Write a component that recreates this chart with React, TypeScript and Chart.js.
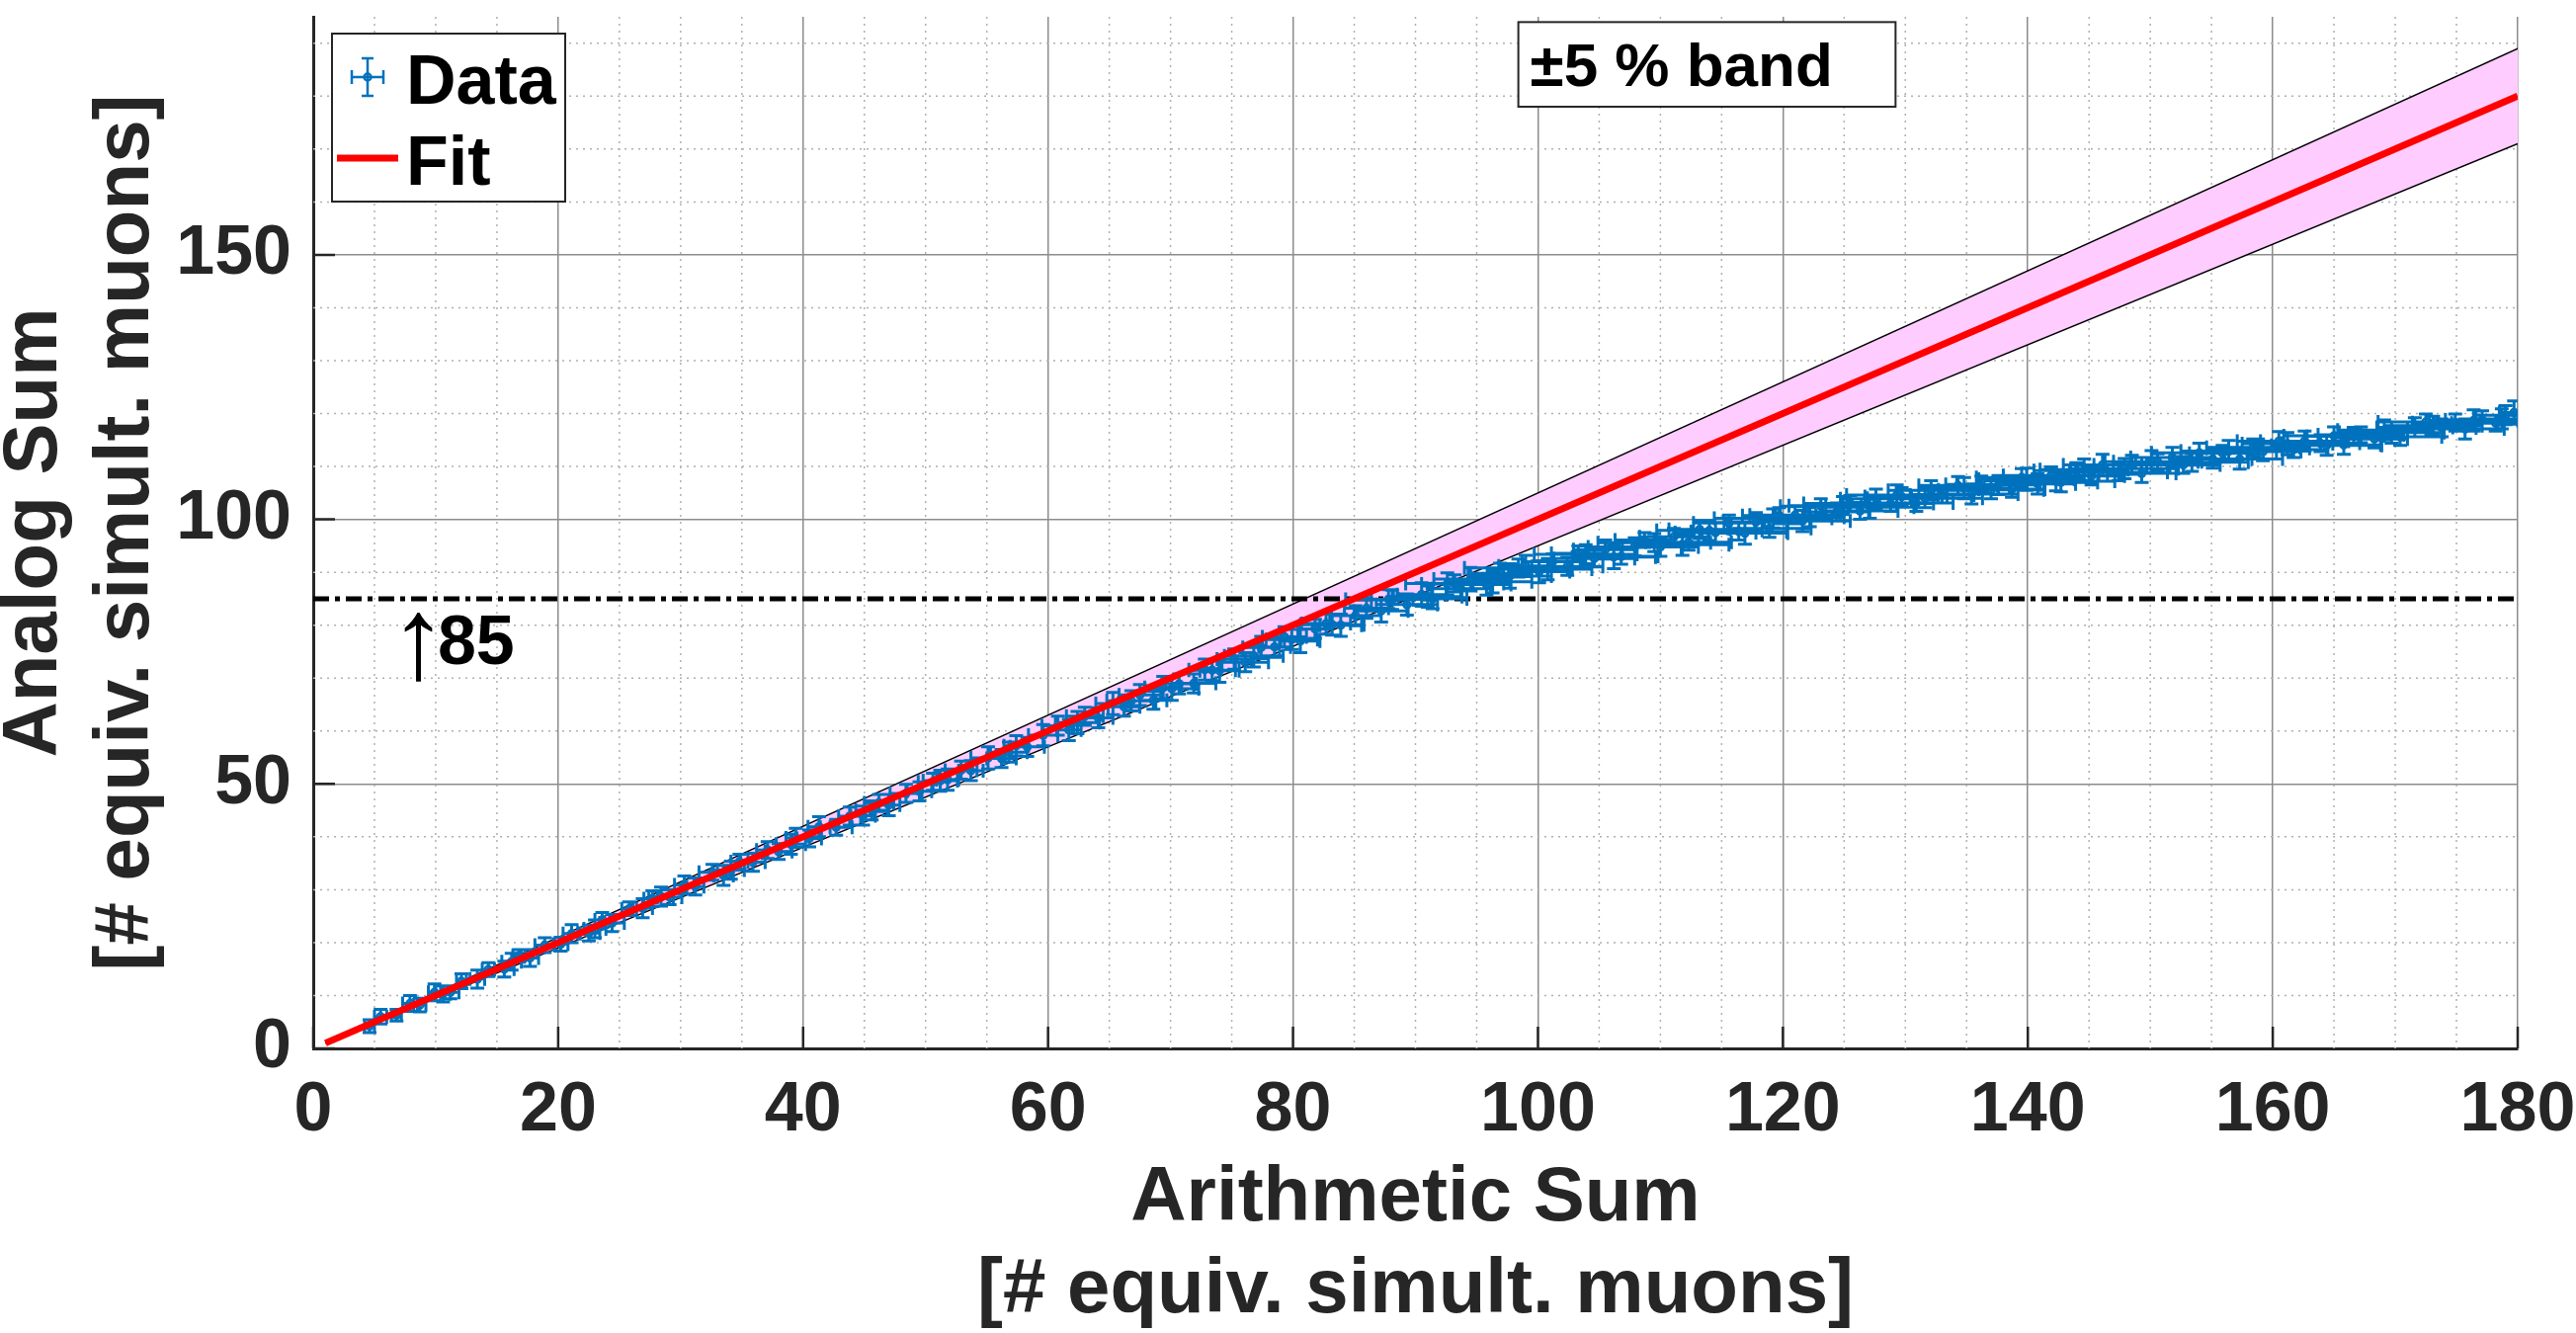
import { useEffect, useRef } from "react"
import { Chart, registerables } from "chart.js"

Chart.register(...registerables)

// measured points: arithmetic sum (x) vs analog sum (y), with errors
const dataX = [
  4.6, 5.5, 6.8, 7.9, 8.7, 9.9, 11.2, 12.1, 13.4, 14.3,
  15.6, 16.8, 17.7, 18.9, 20.2, 21.1, 22.5, 23.6, 24.4, 25.8,
  26.9, 27.7, 29.1, 30.3, 31.2, 32.6, 33.5, 34.8, 35.9, 37.1,
  38.0, 39.4, 40.5, 41.3, 42.7, 43.8, 44.9, 46.2, 47.0, 48.4,
  49.5, 50.6, 51.8, 52.9, 53.7, 55.1, 56.2, 57.4, 58.3, 59.6,
  60.8, 61.7, 63.0, 64.1, 65.3, 66.2, 67.5, 68.6, 69.4, 70.7,
  71.9, 72.8, 74.0, 75.2, 76.1, 77.4, 78.5, 79.3, 80.6, 81.8,
  82.7, 83.9, 85.1,
  86.0, 87.2, 88.1, 89.3, 90.5, 91.4, 92.6, 93.7, 94.5, 95.8,
  96.9, 97.7, 99.0, 100.1,
  101.2, 102.4, 103.3, 104.6, 105.5, 106.8, 107.9, 108.7, 110.0, 111.1,
  112.3, 113.2, 114.5, 115.6, 116.4, 117.8, 118.9, 119.7, 121.0, 122.2,
  123.1, 124.4, 125.5, 126.3, 127.6, 128.8, 129.7,
  130.9, 132.1, 133.0, 134.3, 135.4, 136.2, 137.6, 138.7, 139.5, 140.8,
  141.9, 142.7, 144.0, 145.2, 146.1, 147.4, 148.5, 149.3, 150.6, 151.8,
  152.7, 154.0, 155.1, 155.9, 157.3, 158.4, 159.2, 160.5, 161.7, 162.6,
  163.9, 165.0, 165.8, 167.2, 168.3, 169.1, 170.4, 171.6, 172.5, 173.8,
  174.9, 175.7, 177.1, 178.2, 179.0, 179.7,
  // second pass
  10.6, 16.2, 23.0, 28.4, 34.1, 39.0, 45.6, 51.2, 56.8,
  62.4, 66.8, 70.1, 73.4, 76.8, 79.9, 83.2,
  87.8, 91.0, 93.2, 96.3, 98.4, 100.8, 103.9, 106.2, 109.5, 111.8,
  114.0, 116.9, 119.2, 121.6, 124.9, 127.1, 129.3, 131.6, 134.8, 137.0,
  139.9, 142.3, 144.6, 147.9, 150.1, 153.4, 156.4, 158.8, 161.2, 164.4,
  166.6, 169.7, 173.1, 176.4, 178.7,
]
const dataY = [
  4.2, 6.0, 6.3, 8.5, 8.2, 10.6, 10.6, 12.7, 13.1, 14.9,
  15.0, 17.5, 17.1, 19.5, 19.7, 21.7, 21.8, 24.3, 23.7, 26.4,
  26.5, 28.3, 28.6, 30.9, 30.6, 33.3, 32.7, 35.3, 35.2, 37.5,
  37.2, 39.8, 39.7, 41.9, 41.8, 43.9, 44.0, 46.4, 46.0, 48.2,
  48.6, 50.4, 50.8, 52.6, 52.5, 54.9, 54.8, 57.2, 57.0, 59.2,
  61.0, 60.2, 62.8, 62.5, 65.2, 64.6, 66.8, 65.8, 68.2, 68.9,
  69.0, 71.6, 71.4, 73.6, 73.0, 75.8, 75.9, 77.8, 77.0, 79.3,
  80.3, 80.0, 81.8,
  83.2, 82.7, 84.8, 83.9, 85.8, 85.0, 87.8, 86.9, 88.7, 87.7,
  89.8, 89.3, 91.2, 90.1,
  92.0, 91.1, 93.6, 92.6, 94.3, 93.0, 94.8, 96.1, 94.8, 96.7,
  95.7, 98.1, 97.5, 99.3, 97.7, 99.5, 98.3, 100.7, 100.8, 100.4,
  102.5, 101.4, 103.0, 101.6, 103.9, 103.0, 104.3,
  103.1, 105.5, 104.6, 106.4, 104.8, 106.6, 106.5, 105.7, 107.9, 106.7,
  108.3, 107.0, 109.2, 108.2, 110.3, 108.9, 110.3, 108.7, 110.9, 111.7,
  110.3, 112.6, 111.4, 112.5, 111.4, 113.6, 112.8, 114.8, 113.2, 114.8,
  114.4, 115.8, 114.1, 116.0, 115.2, 116.9, 115.6, 117.4, 118.4, 117.3,
  118.3, 117.1, 118.8, 118.2, 119.7, 120.2,
  // second pass
  10.3, 16.4, 22.6, 28.7, 33.7, 38.6, 45.0, 50.6, 56.0,
  61.6, 65.7, 68.0, 71.5, 74.2, 77.3, 80.1,
  84.9, 85.4, 87.9, 88.2, 90.8, 90.6, 93.4, 92.9, 95.6, 95.2,
  97.9, 97.4, 100.2, 99.7, 102.6, 102.3, 104.6, 104.0, 105.9, 105.6,
  107.6, 107.2, 109.4, 109.6, 110.9, 110.8, 112.9, 113.4, 114.3, 114.0,
  115.7, 116.4, 117.7, 118.7, 119.0,
]
const dataXErr = [
  0.4, 0.5, 0.4, 0.6, 0.5, 0.5, 0.7, 0.4, 0.6, 0.5,
  0.8, 0.5, 0.7, 0.8, 0.6, 0.7, 0.9, 0.6, 1.0, 0.6,
  0.8, 0.7, 1.0, 0.8, 0.7, 1.1, 0.8, 0.7, 1.0, 0.9,
  1.1, 0.8, 1.0, 0.9, 1.3, 0.9, 1.0, 1.2, 0.9, 1.3,
  1.0, 1.2, 0.9, 1.3, 1.0, 1.4, 1.2, 1.0, 1.4, 1.2,
  1.3, 1.0, 1.5, 1.2, 1.4, 1.3, 1.7, 1.1, 1.5, 1.4,
  1.8, 1.3, 1.6, 1.4, 1.9, 1.5, 1.3, 1.8, 1.6, 1.4,
  2.0, 1.7, 2.1,
  1.8, 2.2, 1.7, 2.5, 2.0, 2.8, 2.1, 2.4, 3.0, 2.0,
  2.6, 3.4, 2.2, 2.5,
  2.5, 2.9, 2.2, 3.3, 2.6, 3.0, 3.8, 2.4, 3.1, 2.8,
  3.5, 2.5, 3.3, 2.9, 3.9, 2.6, 3.4, 3.0, 3.7, 2.8,
  3.3, 2.6, 3.8, 3.1, 2.9, 3.5, 3.0,
  3.0, 3.5, 2.6, 3.2, 3.8, 2.9, 3.4, 2.7, 3.7, 3.1,
  3.9, 3.0, 3.5, 2.7, 3.2, 4.0, 3.1, 2.8, 3.6, 3.4,
  3.0, 3.9, 3.2, 2.7, 3.5, 3.8, 3.1, 3.4, 2.8, 3.6,
  3.2, 4.1, 3.0, 3.5, 2.7, 3.8, 3.4, 3.1, 3.9, 2.8,
  3.5, 3.2, 3.0, 3.6, 2.4, 1.2,
  // second pass
  0.6, 0.8, 0.9, 1.0, 1.1, 1.2, 1.3, 1.4, 1.5,
  1.8, 2.0, 2.2, 1.9, 2.4, 2.1, 2.6,
  3.5, 2.8, 4.0, 3.2, 4.4, 3.6, 4.2, 3.4, 4.6, 3.8,
  4.3, 3.5, 4.8, 3.9, 4.4, 3.6, 4.1, 4.7, 3.7, 4.3,
  3.9, 4.8, 3.6, 4.4, 3.8, 4.6, 3.9, 4.2, 3.7, 4.5,
  3.8, 4.3, 4.0, 3.6, 2.2,
]
const dataYErr = [
  1.2, 1.4, 1.1, 1.5, 1.3, 1.6, 1.2, 1.4, 1.7, 1.3,
  1.5, 1.2, 1.6, 1.4, 1.3, 1.7, 1.5, 1.4, 1.6, 1.3,
  1.8, 1.5, 1.4, 1.7, 1.6, 1.5, 1.9, 1.4, 1.7, 1.6,
  1.5, 1.8, 1.6, 1.9, 1.5, 1.7, 1.8, 1.6, 2.0, 1.7,
  1.8, 1.6, 2.0, 1.7, 1.9, 2.1, 1.7, 1.9, 1.8, 2.0,
  1.8, 2.0, 1.7, 1.9, 2.1, 1.8, 2.0, 1.7, 2.1, 1.9,
  1.8, 2.0, 2.2, 1.9, 1.8, 2.1, 2.0, 1.9, 2.2, 1.8,
  2.0, 2.1, 1.9,
  1.9, 2.1, 1.8, 2.0, 2.2, 1.9, 2.1, 1.8, 2.2, 2.0,
  1.9, 2.3, 2.0, 2.1,
  1.5, 1.7, 1.4, 1.6, 1.8, 1.5, 1.7, 1.4, 1.8, 1.6,
  1.5, 1.7, 1.9, 1.5, 1.6, 1.8, 1.7, 1.5, 1.6, 1.8,
  1.4, 1.7, 1.5, 1.6, 1.8, 1.5, 1.7,
  1.6, 1.8, 1.5, 1.7, 1.9, 1.6, 1.8, 1.5, 1.7, 1.9,
  1.6, 1.8, 1.5, 1.7, 2.0, 1.6, 1.8, 1.7, 1.5, 1.9,
  1.6, 1.8, 1.7, 1.5, 1.9, 1.6, 1.7, 1.8, 1.5, 1.9,
  1.6, 1.7, 1.8, 1.5, 1.7, 1.9, 1.6, 1.8, 1.5, 1.7,
  1.6, 1.9, 1.7, 1.5, 1.8, 2.2,
  // second pass
  1.5, 1.6, 1.7, 1.8, 1.7, 1.9, 1.8, 2.0, 1.9,
  2.1, 1.9, 2.2, 2.0, 2.1, 1.9, 2.0,
  1.8, 2.0, 1.6, 2.1, 1.7, 2.0, 1.8, 2.2, 1.7, 2.0,
  1.9, 2.1, 1.8, 2.0, 1.7, 2.1, 1.9, 1.8, 2.0, 1.7,
  2.1, 1.8, 2.0, 1.9, 2.1, 1.7, 2.0, 1.8, 2.1, 1.9,
  1.7, 2.0, 1.8, 2.0, 1.9,
]

// linear fit and the ±5 % band around it
const fitX = [1, 180]
const fitY = [1, 180]
const bandUpperY = [1.05, 189]
const bandLowerY = [0.95, 171]

// saturation threshold line
const limitX = [0, 180]
const limitY = [85, 85]

// ticks
const xTicks = [0, 20, 40, 60, 80, 100, 120, 140, 160, 180]
const yTicks = [0, 50, 100, 150]
const xMinorTicks = [5, 10, 15, 25, 30, 35, 45, 50, 55, 65, 70, 75, 85, 90, 95, 105, 110, 115, 125, 130, 135, 145, 150, 155, 165, 170, 175]
const yMinorTicks = [10, 20, 30, 40, 60, 70, 80, 90, 110, 120, 130, 140, 160, 170, 180, 190]

const W = 2607
const H = 1349
const FONT = "'Liberation Sans', Arial, Helvetica, sans-serif"
const AXIS_COLOR = "#262626"
const BLUE = "#0072BD"
const RED = "#ff0000"

const toPoints = (xs: number[], ys: number[]) => xs.map((x, i) => ({ x, y: ys[i] }))

// 마이너 그리드, 안쪽 눈금, 에러바, 범례, 주석
const overlayPlugin = {
  id: "overlay",
  beforeDatasetsDraw(chart: any) {
    const { ctx, chartArea: a } = chart
    const xs = chart.scales.x
    const ys = chart.scales.y
    ctx.save()
    ctx.strokeStyle = "#b0b0b0"
    ctx.lineWidth = 1.5
    ctx.setLineDash([2, 5])
    ctx.beginPath()
    xMinorTicks.forEach((v) => {
      const px = xs.getPixelForValue(v)
      ctx.moveTo(px, a.top)
      ctx.lineTo(px, a.bottom)
    })
    yMinorTicks.forEach((v) => {
      const py = ys.getPixelForValue(v)
      ctx.moveTo(a.left, py)
      ctx.lineTo(a.right, py)
    })
    ctx.stroke()
    ctx.setLineDash([])
    ctx.strokeStyle = AXIS_COLOR
    ctx.lineWidth = 2.5
    ctx.beginPath()
    xTicks.forEach((v) => {
      const px = xs.getPixelForValue(v)
      ctx.moveTo(px, a.bottom)
      ctx.lineTo(px, a.bottom - 22)
    })
    yTicks.forEach((v) => {
      const py = ys.getPixelForValue(v)
      ctx.moveTo(a.left, py)
      ctx.lineTo(a.left + 22, py)
    })
    ctx.stroke()
    ctx.restore()
  },
  afterDatasetDraw(chart: any, args: any) {
    if (args.index !== 0) return
    const { ctx, chartArea: a } = chart
    const xs = chart.scales.x
    const ys = chart.scales.y
    const cap = 7
    ctx.save()
    ctx.beginPath()
    ctx.rect(a.left, a.top, a.right - a.left, a.bottom - a.top)
    ctx.clip()
    ctx.strokeStyle = BLUE
    ctx.lineWidth = 3
    ctx.beginPath()
    dataX.forEach((xv, i) => {
      const yv = dataY[i]
      const ex = dataXErr[i] ?? 0
      const ey = dataYErr[i] ?? 0
      const px = xs.getPixelForValue(xv)
      const py = ys.getPixelForValue(yv)
      const x0 = xs.getPixelForValue(xv - ex)
      const x1 = xs.getPixelForValue(xv + ex)
      const y0 = ys.getPixelForValue(yv - ey)
      const y1 = ys.getPixelForValue(yv + ey)
      ctx.moveTo(x0, py)
      ctx.lineTo(x1, py)
      ctx.moveTo(x0, py - cap)
      ctx.lineTo(x0, py + cap)
      ctx.moveTo(x1, py - cap)
      ctx.lineTo(x1, py + cap)
      ctx.moveTo(px, y0)
      ctx.lineTo(px, y1)
      ctx.moveTo(px - cap, y0)
      ctx.lineTo(px + cap, y0)
      ctx.moveTo(px - cap, y1)
      ctx.lineTo(px + cap, y1)
    })
    ctx.stroke()
    ctx.restore()
  },
  afterDraw(chart: any) {
    const { ctx, chartArea: a } = chart
    const xs = chart.scales.x
    const ys = chart.scales.y
    ctx.save()

    // ↑85 label
    const ax = xs.getPixelForValue(6.85)
    const ay = ys.getPixelForValue(72.7)
    ctx.fillStyle = "#000"
    ctx.textBaseline = "alphabetic"
    ctx.textAlign = "left"
    ctx.font = `normal 118px ${FONT}`
    ctx.fillText("\u2191", ax - 8, ay + 14)
    ctx.font = `bold 70px ${FONT}`
    ctx.fillText("85", ax + 41, ay)

    // ±5 % band text box
    const bx0 = xs.getPixelForValue(98.4)
    const bx1 = xs.getPixelForValue(129.2)
    const by0 = ys.getPixelForValue(194)
    const by1 = ys.getPixelForValue(178)
    ctx.fillStyle = "#fff"
    ctx.fillRect(bx0, by0, bx1 - bx0, by1 - by0)
    ctx.strokeStyle = AXIS_COLOR
    ctx.lineWidth = 2
    ctx.strokeRect(bx0, by0, bx1 - bx0, by1 - by0)
    ctx.fillStyle = "#000"
    ctx.font = `bold 62px ${FONT}`
    ctx.fillText("±5 % band", bx0 + 12, by0 + 65)

    // legend
    const lx = a.left + 19
    const ly = a.top + 17
    ctx.fillStyle = "#fff"
    ctx.fillRect(lx, ly, 236, 170)
    ctx.strokeStyle = AXIS_COLOR
    ctx.lineWidth = 2
    ctx.strokeRect(lx, ly, 236, 170)

    const cx = lx + 36
    const cy = ly + 44
    ctx.strokeStyle = BLUE
    ctx.lineWidth = 2.5
    ctx.beginPath()
    ctx.moveTo(cx - 16, cy)
    ctx.lineTo(cx + 16, cy)
    ctx.moveTo(cx - 16, cy - 7)
    ctx.lineTo(cx - 16, cy + 7)
    ctx.moveTo(cx + 16, cy - 7)
    ctx.lineTo(cx + 16, cy + 7)
    ctx.moveTo(cx, cy - 19)
    ctx.lineTo(cx, cy + 19)
    ctx.moveTo(cx - 6, cy - 19)
    ctx.lineTo(cx + 6, cy - 19)
    ctx.moveTo(cx - 6, cy + 19)
    ctx.lineTo(cx + 6, cy + 19)
    ctx.stroke()
    ctx.beginPath()
    ctx.arc(cx, cy, 3.5, 0, Math.PI * 2)
    ctx.stroke()

    ctx.strokeStyle = RED
    ctx.lineWidth = 7
    ctx.beginPath()
    ctx.moveTo(lx + 5, ly + 126)
    ctx.lineTo(lx + 67, ly + 126)
    ctx.stroke()

    ctx.fillStyle = "#000"
    ctx.font = `bold 70px ${FONT}`
    ctx.fillText("Data", lx + 75, ly + 71)
    ctx.fillText("Fit", lx + 75, ly + 153)

    ctx.restore()
  },
}

export default function App() {
  const canvasRef = useRef<HTMLCanvasElement>(null)

  useEffect(() => {
    document.body.style.margin = "0"
    if (!canvasRef.current) return

    const tickFont = { family: FONT, size: 70, weight: "bold" as const }
    const titleFont = { family: FONT, size: 78, weight: "bold" as const, lineHeight: 93 / 78 }

    const chart = new Chart(canvasRef.current, {
      type: "scatter",
      data: {
        datasets: [
          {
            label: "Data",
            data: toPoints(dataX, dataY),
            showLine: false,
            pointRadius: 3.5,
            pointBorderWidth: 2.5,
            pointBorderColor: BLUE,
            pointBackgroundColor: "rgba(0,0,0,0)",
            order: 1,
          },
          {
            label: "Fit",
            data: toPoints(fitX, fitY),
            showLine: true,
            borderColor: RED,
            borderWidth: 7,
            pointRadius: 0,
            order: 0,
          },
          {
            label: "limit",
            data: toPoints(limitX, limitY),
            showLine: true,
            borderColor: "#000",
            borderWidth: 5,
            borderDash: [16, 6, 5, 6],
            pointRadius: 0,
            order: 2,
          },
          {
            label: "band upper",
            data: toPoints(fitX, bandUpperY),
            showLine: true,
            borderColor: "#000",
            borderWidth: 1.5,
            backgroundColor: "#ffccff",
            fill: "+1",
            pointRadius: 0,
            order: 4,
          },
          {
            label: "band lower",
            data: toPoints(fitX, bandLowerY),
            showLine: true,
            borderColor: "#000",
            borderWidth: 1.5,
            pointRadius: 0,
            order: 3,
          },
        ],
      },
      options: {
        responsive: false,
        devicePixelRatio: 1,
        animation: false,
        events: [],
        layout: { padding: { left: 0, right: W - 2548, top: 17, bottom: 0 }, autoPadding: false },
        plugins: {
          legend: { display: false },
          tooltip: { enabled: false },
        },
        scales: {
          x: {
            type: "linear",
            min: 0,
            max: 180,
            bounds: "data",
            afterBuildTicks: (s: any) => {
              s.ticks = xTicks.map((value) => ({ value }))
            },
            afterFit: (s: any) => {
              s.height = H - 1061
              s.paddingLeft = 0
              s.paddingRight = 0
            },
            ticks: { font: tickFont, color: AXIS_COLOR, padding: 22, maxRotation: 0, autoSkip: false },
            grid: { color: "#8c8c8c", lineWidth: 1.5, drawTicks: false },
            border: { color: AXIS_COLOR, width: 3 },
            title: {
              display: true,
              text: ["Arithmetic Sum", "[# equiv. simult. muons]"],
              font: titleFont,
              color: AXIS_COLOR,
              padding: { top: 0, bottom: -3.5 },
            },
          },
          y: {
            type: "linear",
            min: 0,
            max: 195,
            bounds: "data",
            afterBuildTicks: (s: any) => {
              s.ticks = yTicks.map((value) => ({ value }))
            },
            afterFit: (s: any) => {
              s.width = 317
              s.paddingTop = 0
              s.paddingBottom = 0
            },
            ticks: { font: tickFont, color: AXIS_COLOR, padding: 22, autoSkip: false },
            grid: { color: "#8c8c8c", lineWidth: 1.5, drawTicks: false },
            border: { color: AXIS_COLOR, width: 3 },
            title: {
              display: true,
              text: ["Analog Sum", "[# equiv. simult. muons]"],
              font: titleFont,
              color: AXIS_COLOR,
              padding: { top: -11.5, bottom: 0 },
            },
          },
        },
      },
      plugins: [overlayPlugin],
    } as any)

    return () => chart.destroy()
  }, [])

  return (
    <div style={{ width: W, height: H, overflow: "hidden" }}>
      <canvas ref={canvasRef} width={W} height={H} style={{ display: "block" }} />
    </div>
  )
}
